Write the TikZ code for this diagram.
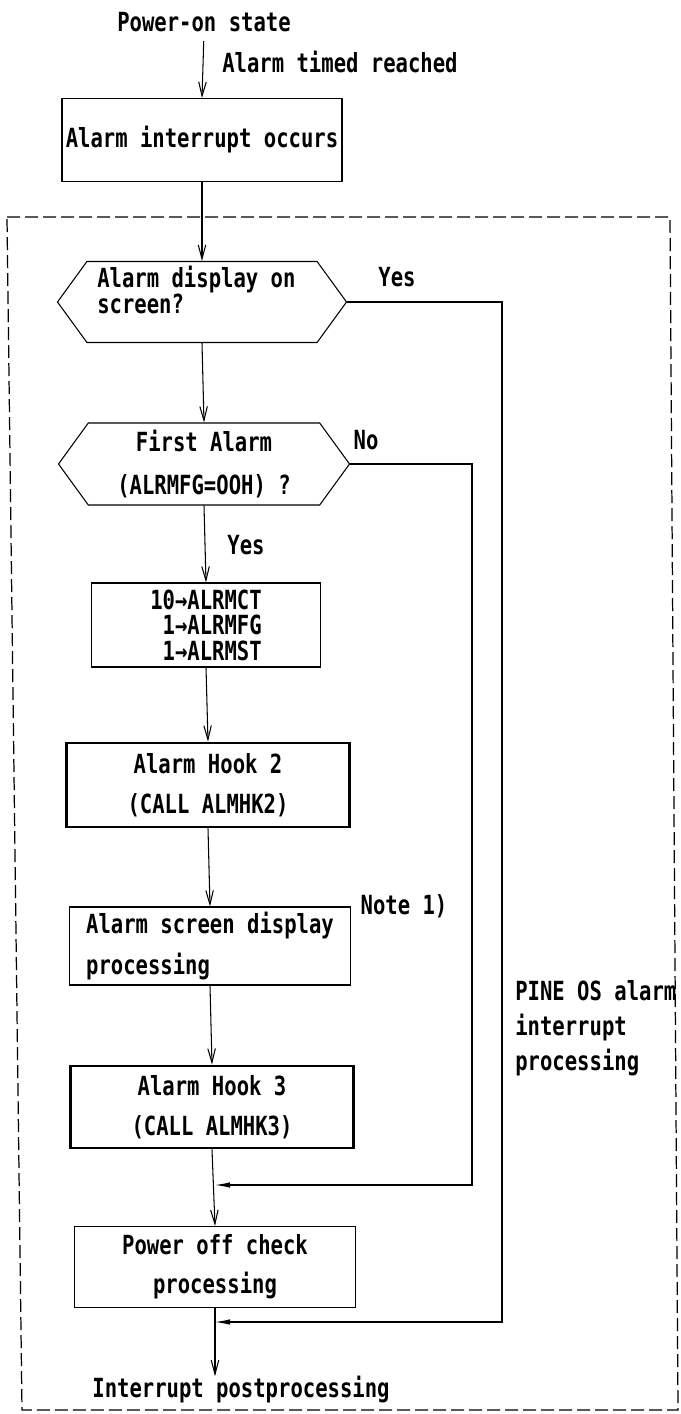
\documentclass[tikz,border=0pt]{standalone}
\usepackage{fontspec}
\usepackage{tikz}
\usetikzlibrary{arrows.meta, shapes.symbols}
\newfontfamily\gothic[FakeStretch=0.78]{DejaVu Sans Mono Bold}

\tikzset{
  txt/.style={inner sep=0pt, font=\gothic\fontsize{15}{17}\selectfont},
  box/.style={txt, draw, line width=0.6pt},
  hookbox/.style={box, line width=1.6pt},
  decide/.style={txt, draw, line width=0.6pt, shape=signal, signal to=west and east, signal pointer angle=108},
  flow/.style={line width=0.6pt, -{Straight Barb[length=2.8mm,width=1.5mm]}},
  merge/.style={line width=0.6pt, -{Latex[length=3mm,width=1.1mm]}},
}

\begin{document}
\begin{tikzpicture}[x=0.2mm, y=-0.2mm]
\useasboundingbox (0,0) rectangle (680,1414);
\draw[line width=0.7pt, dash pattern=on 2.6mm off 1mm] (7,217) -- (670,217) -- (678,1410) -- (22,1410) -- cycle;

\node[txt] (start) at (204,22) {Power-on state};
\node[txt, anchor=west] (reached) at (222,62) {Alarm timed reached};
\node[box, minimum width=56mm, minimum height=16.6mm] (occurs) at (202,140) {Alarm interrupt occurs};
\node[decide, minimum width=57.8mm, minimum height=16.2mm] (qdisp) at (202,302) {};
\node[txt, anchor=west, align=left, font=\gothic\fontsize{15}{13.5}\selectfont] (qdisptxt) at (97,290) {Alarm display on\\screen?};
\node[decide, minimum width=58.2mm, minimum height=16.4mm, align=center, font=\gothic\fontsize{15}{24}\selectfont] (qfirst) at (204,464) {First Alarm\\(ALRMFG=OOH) ?};
\node[box, minimum width=45.8mm, minimum height=16.8mm, align=right, font=\gothic\fontsize{15}{14.5}\selectfont] (setflag) at (206,625) {10→ALRMCT\\1→ALRMFG\\1→ALRMST};
\node[hookbox, minimum width=56.6mm, minimum height=16.8mm, align=center, font=\gothic\fontsize{15}{22.8}\selectfont] (hooktwo) at (208,785) {Alarm Hook 2\\(CALL ALMHK2)};
\node[box, minimum width=56.2mm, minimum height=15.6mm, align=left, font=\gothic\fontsize{15}{22.8}\selectfont] (screen) at (210,946) {Alarm screen display\\processing};
\node[hookbox, minimum width=56.6mm, minimum height=16.4mm, align=center, font=\gothic\fontsize{15}{22.8}\selectfont] (hookthree) at (212,1107) {Alarm Hook 3\\(CALL ALMHK3)};
\node[box, minimum width=56.2mm, minimum height=16.2mm, align=center, font=\gothic\fontsize{15}{22}\selectfont] (poweroff) at (215,1267) {Power off check\\processing};
\node[txt] (post) at (241,1390) {Interrupt postprocessing};
\node[txt] (yesa) at (397,277) {Yes};
\node[txt] (noa) at (366,440) {No};
\node[txt] (yesb) at (246,545) {Yes};
\node[txt] (note) at (404,906) {Note 1)};
\node[txt, anchor=west, align=left, font=\gothic\fontsize{15}{20}\selectfont] (pine) at (515,1028) {PINE OS alarm\\interrupt\\processing};

\coordinate (noB) at (472,1185);
\coordinate (yesB) at (502,1322);

\draw[flow, shorten <=1.8mm] (start.south) -- (occurs.north);
\draw[flow] (occurs.south) -- (qdisp.north);
\draw[flow] (qdisp.south) -- (qfirst.north);
\draw[flow] (qfirst.south) -- (setflag.north);
\draw[flow] (setflag.south) -- (hooktwo.north);
\draw[flow] (hooktwo.south) -- (screen.north);
\draw[flow] (screen.south) -- (hookthree.north);
\draw[flow] (hookthree.south) -- (poweroff.north);
\draw[flow] (poweroff.south) -- (poweroff.south |- post.north);
\draw[merge] (qfirst.east) -| (noB) -- (noB -| poweroff.north);
\draw[merge] (qdisp.east) -| (yesB) -- (yesB -| poweroff.south);
\end{tikzpicture}
\end{document}
